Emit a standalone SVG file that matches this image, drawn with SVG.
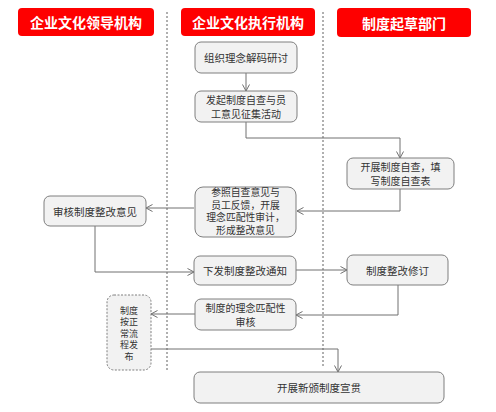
<svg xmlns="http://www.w3.org/2000/svg" width="496" height="412" viewBox="0 0 496 412">
<defs>
<style>
.hdr{fill:#fe0000;}
.ht{font-family:"Noto Sans CJK SC","Noto Sans",sans-serif;font-size:14px;font-weight:bold;fill:#ffffff;text-anchor:middle;dominant-baseline:central;}
.box{fill:#f2f2f2;stroke:#7f7f7f;stroke-width:1;}
.dbox{fill:#f2f2f2;stroke:#7f7f7f;stroke-width:1;stroke-dasharray:2,1.5;}
.t{font-family:"Noto Sans CJK SC","Noto Sans",sans-serif;font-size:10.5px;fill:#333333;text-anchor:middle;dominant-baseline:central;}
.tm{font-family:"Noto Sans CJK SC","Noto Sans",sans-serif;font-size:10px;fill:#333333;text-anchor:middle;dominant-baseline:central;}
.t4{font-family:"Noto Sans CJK SC","Noto Sans",sans-serif;font-size:9.8px;fill:#333333;text-anchor:middle;dominant-baseline:central;}
.t2{font-family:"Noto Sans CJK SC","Noto Sans",sans-serif;font-size:9px;fill:#333333;text-anchor:middle;dominant-baseline:central;}
.lane{stroke:#606060;stroke-width:1;stroke-dasharray:2,2;fill:none;}
.c{fill:none;stroke:#707070;stroke-width:1;marker-end:url(#arr);}
</style>
<marker id="arr" viewBox="0 0 8 8" refX="7.5" refY="4" markerWidth="8" markerHeight="8" markerUnits="userSpaceOnUse" orient="auto">
<path d="M1,0.5 L7.5,4 L1,7.5" fill="none" stroke="#707070" stroke-width="1"/>
</marker>
</defs>
<rect width="496" height="412" fill="#ffffff"/>
<g id="lanes">
<line class="lane" x1="167" y1="12" x2="167" y2="370"/>
<line class="lane" x1="323" y1="12" x2="323" y2="367"/>
</g>
<g id="header1"><rect class="hdr" x="18" y="8" width="136" height="28" rx="4"/><text class="ht" x="86" y="22">企业文化领导机构</text></g>
<g id="header2"><rect class="hdr" x="181" y="8" width="134" height="28" rx="4"/><text class="ht" x="248" y="22">企业文化执行机构</text></g>
<g id="header3"><rect class="hdr" x="337" y="8" width="134" height="29" rx="4"/><text class="ht" x="404" y="22.5">制度起草部门</text></g>
<g id="connectors">
<path class="c" d="M246,73 V91"/>
<path class="c" d="M246,122 V138 H400 V158"/>
<path class="c" d="M400,189 V211 H297"/>
<path class="c" d="M194,208 H146"/>
<path class="c" d="M95,226 V272 H194"/>
<path class="c" d="M296,270 H347"/>
<path class="c" d="M398,285 V315 H296"/>
<path class="c" d="M195,314 H151"/>
<path class="c" d="M151,349 H338 V372"/>
</g>
<g id="n1"><rect class="box" x="195" y="42" width="102" height="31" rx="6"/><text class="t" x="246" y="57.5">组织理念解码研讨</text></g>
<g id="n2"><rect class="box" x="195" y="91" width="102" height="31" rx="6"/><text class="tm" x="246" y="99.8">发起制度自查与员</text><text class="tm" x="246" y="113.3">工意见征集活动</text></g>
<g id="n3"><rect class="box" x="347" y="158" width="107" height="31" rx="6"/><text class="tm" x="400.5" y="166.8">开展制度自查，填</text><text class="tm" x="400.5" y="180.3">写制度自查表</text></g>
<g id="n4"><rect class="box" x="195" y="187" width="101" height="50" rx="8"/><text class="t4" x="245.5" y="192.1">参照自查意见与</text><text class="t4" x="245.5" y="204.7">员工反馈，开展</text><text class="t4" x="245.5" y="217.3">理念匹配性审计，</text><text class="t4" x="245.5" y="229.9">形成整改意见</text></g>
<g id="n5"><rect class="box" x="44" y="196" width="102" height="30" rx="6"/><text class="t" x="95" y="211">审核制度整改意见</text></g>
<g id="n6"><rect class="box" x="194" y="256" width="102" height="29" rx="6"/><text class="t" x="245" y="270.5">下发制度整改通知</text></g>
<g id="n7"><rect class="box" x="347" y="255" width="101" height="30" rx="6"/><text class="t" x="397.5" y="270">制度整改修订</text></g>
<g id="n8"><rect class="box" x="195" y="299" width="101" height="31" rx="6"/><text class="tm" x="245.5" y="307.8">制度的理念匹配性</text><text class="tm" x="245.5" y="321.3">审核</text></g>
<g id="n9"><rect class="dbox" x="107" y="295" width="44" height="75" rx="7"/><text class="t2" x="129" y="310">制度</text><text class="t2" x="129" y="321.5">按正</text><text class="t2" x="129" y="333">常流</text><text class="t2" x="129" y="344.5">程发</text><text class="t2" x="129" y="356">布</text></g>
<g id="n10"><rect class="box" x="194" y="372" width="250" height="31" rx="6"/><text class="t" x="319" y="387.5">开展新颁制度宣贯</text></g>
</svg>
